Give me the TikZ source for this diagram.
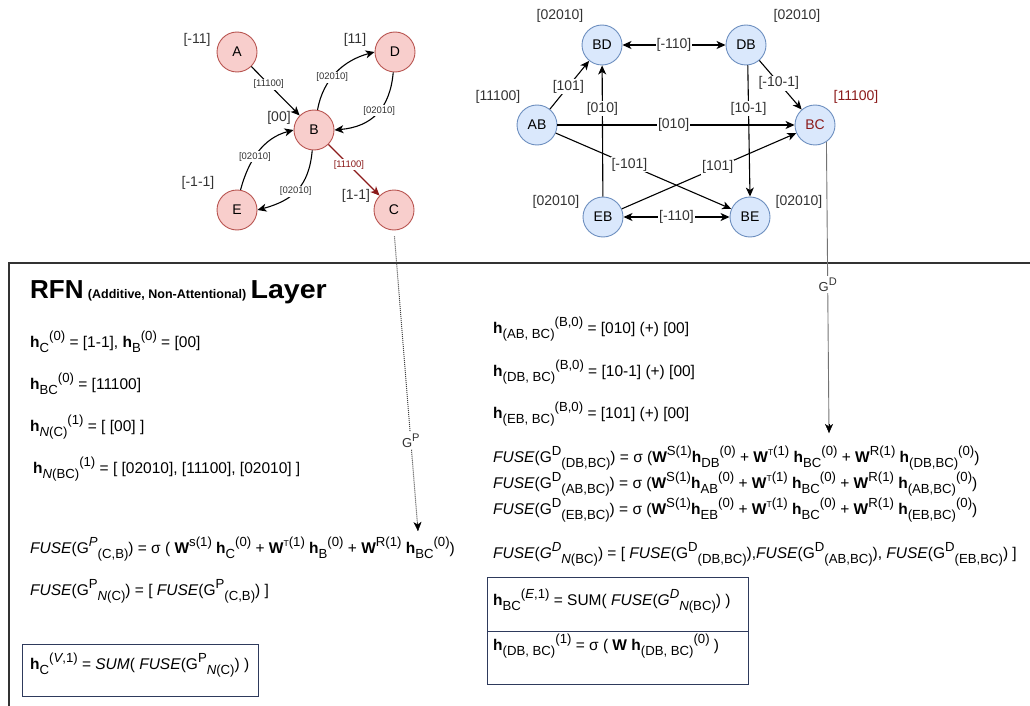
\documentclass[tikz,border=0pt]{standalone}
\usepackage{fontspec}
\setmainfont{Liberation Sans}
\usetikzlibrary{arrows.meta,calc}
\definecolor{pinkfill}{HTML}{F8CECC}
\definecolor{pinkline}{HTML}{B85450}
\definecolor{bluefill}{HTML}{DAE8FC}
\definecolor{blueline}{HTML}{6C8EBF}
\definecolor{darkred}{HTML}{8B1A1A}
\definecolor{boxline}{HTML}{2E3A5C}
\definecolor{labgray}{HTML}{333333}
% sub- and superscripts in the running font, slightly reduced
\newcommand\mysub[1]{\raisebox{-0.36em}{\scalebox{0.85}{#1}}}
\newcommand\mysup[1]{\raisebox{0.42em}{\scalebox{0.85}{#1}}}
\newcommand\hv{\textbf{h}}
\newcommand\Wv{\textbf{W}}
\newcommand\tT{\scalebox{0.65}{T}}
\begin{document}
\begin{tikzpicture}[x=1pt,y=-1pt,
  pnode/.style={circle,draw=pinkline,fill=pinkfill,line width=0.9pt,minimum size=40pt,inner sep=0pt,font=\fontsize{14}{14}\selectfont},
  bnode/.style={circle,draw=blueline,fill=bluefill,line width=0.9pt,minimum size=40pt,inner sep=0pt,font=\fontsize{14}{14}\selectfont},
  vlab/.style={font=\fontsize{14}{14}\selectfont,text=labgray},
  slab/.style={fill=white,inner sep=1pt,font=\fontsize{9.5}{9.5}\selectfont,text=labgray},
  elab/.style={fill=white,inner sep=1pt,font=\fontsize{14}{14}\selectfont,text=labgray},
  glab/.style={fill=white,inner sep=2pt,font=\fontsize{13}{13}\selectfont,text=labgray},
  arr/.style={line width=1.1pt,-{Stealth[length=9pt,width=8pt,inset=2.5pt]}},
  darr/.style={line width=1.1pt,{Stealth[length=9pt,width=8pt,inset=2.5pt]}-{Stealth[length=9pt,width=8pt,inset=2.5pt]}},
  txt/.style={anchor=base west,inner sep=0pt,font=\fontsize{15.5}{18}\selectfont},
  boxstyle/.style={draw=boxline,line width=1pt}
]
\useasboundingbox (0,0) rectangle (1030,706);

% ---- left graph: vertices ----
\node[pnode] (A) at (237,52) {A};
\node[pnode] (D) at (395,52) {D};
\node[pnode] (B) at (314,130) {B};
\node[pnode] (E) at (237,210) {E};
\node[pnode] (C) at (394,210) {C};
\node[vlab] (lA) at (197,40) {[-11]};
\node[vlab] (lD) at (355,40) {[11]};
\node[vlab] (lB) at (279,118) {[00]};
\node[vlab] (lE) at (198,183) {[-1-1]};
\node[vlab] (lC) at (356,196) {[1-1]};

% ---- left graph: edges ----
\draw[arr] (A) -- node[slab,pos=0.36] {[11100]} (B);
\draw[arr] (B.80) to[out=80,in=195] node[slab,pos=0.42] {[02010]} (D.west);
\draw[arr] (D.-95) to[out=-95,in=5,looseness=1.15] node[slab,pos=0.45] {[02010]} (B.east);
\draw[arr] (E.80) to[out=75,in=195] node[slab,pos=0.42] {[02010]} (B.west);
\draw[arr] (B.-95) to[out=-95,in=15,looseness=1.15] node[slab,pos=0.52] {[02010]} (E.east);
\draw[arr,draw=darkred,-{Stealth[length=9pt,width=8pt,inset=2.5pt,fill=darkred]}] (B) -- node[slab,pos=0.4,text=darkred] {[11100]} (C);

% ---- right graph: vertices ----
\node[bnode] (BD) at (602,45) {BD};
\node[bnode] (DB) at (746,45) {DB};
\node[bnode] (AB) at (537,125) {AB};
\node[bnode,text=darkred] (BC) at (815,125) {BC};
\node[bnode] (EB) at (603,217) {EB};
\node[bnode] (BE) at (750,217) {BE};
\node[vlab] (lBD) at (560,16) {[02010]};
\node[vlab] (lDB) at (797,16) {[02010]};
\node[vlab] (lAB) at (498,97) {[11100]};
\node[vlab,text=darkred] (lBC) at (856,97) {[11100]};
\node[vlab] (lEB) at (556,202) {[02010]};
\node[vlab] (lBE) at (799,202) {[02010]};

% ---- right graph: edges ----
\draw[darr] (BD) -- node[elab] {[-110]} (DB);
\draw[arr] (AB) -- node[elab,pos=0.47] {[101]} (BD);
\draw[arr] (EB) -- node[elab,pos=0.67] {[010]} (BD);
\draw[arr] (DB) -- node[elab,pos=0.46] {[-10-1]} (BC);
\draw[arr] (DB.-85) -- node[elab,pos=0.33] {[10-1]} (BE.north);
\draw[arr] (AB) -- node[elab,pos=0.49] {[010]} (BC);
\draw[arr] (AB) -- node[elab,pos=0.42] {[-101]} (BE);
\draw[arr] (EB) -- node[elab,pos=0.55] {[101]} (BC);
\draw[darr] (EB) -- node[elab] {[-110]} (BE);

% ---- layer frame ----
\coordinate (frTL) at (9,263);
\coordinate (frTR) at (1030,263);
\coordinate (frBL) at (9,706);
\draw[line width=1.2pt,black!80] (frBL) -- (frTL) -- (frTR);

% ---- projections into the layer ----
\coordinate (gpEnd) at (418,531);
\coordinate (gdEnd) at (829,433);
\draw[line width=1pt,black!75,densely dotted,shorten <=6pt] (C.south) -- node[glab,pos=0.7] {G\mysup{P}} (gpEnd);
\draw[-{Stealth[length=9pt,width=8pt,inset=2.5pt]},black,line width=0.4pt] ($(gpEnd)+(-0.5,-9)$) -- (gpEnd);
\draw[line width=0.9pt,black!55] (BC.-56) -- node[glab,pos=0.49] {G\mysup{D}} (gdEnd);
\draw[-{Stealth[length=9pt,width=8pt,inset=2.5pt]},black,line width=0.4pt] ($(gdEnd)+(0,-9)$) -- (gdEnd);

% ---- title ----
\node[txt] (title) at (30,298) {\textbf{\fontsize{26}{26}\selectfont RFN} \textbf{\fontsize{12.5}{12.5}\selectfont (Additive, Non-Attentional)} \textbf{\fontsize{26}{26}\selectfont\scalebox{1.1}[1]{Layer}}};

% ---- left column ----
\node[txt] (t1) at (30,347) {\hv\mysub{C}\mysup{(0)} = [1-1], \hv\mysub{B}\mysup{(0)} = [00]};
\node[txt] (t2) at (30,389) {\hv\mysub{BC}\mysup{(0)} = [11100]};
\node[txt] (t3) at (30,431) {\hv\mysub{\textit{N}(C)}\mysup{(1)} = [ [00] ]};
\node[txt] (t4) at (33,473) {\hv\mysub{\textit{N}(BC)}\mysup{(1)} = [ [02010], [11100], [02010] ]};
\node[txt] (t5) at (30,553) {\textit{FUSE}(G\mysup{\textit{P}}\mysub{(C,B)}) = σ ( \Wv\mysup{s(1)} \hv\mysub{C}\mysup{(0)} + \Wv\mysup{\tT(1)} \hv\mysub{B}\mysup{(0)} + \Wv\mysup{R(1)} \hv\mysub{BC}\mysup{(0)})};
\node[txt] (t6) at (30,595) {\textit{FUSE}(G\mysup{P}\mysub{\textit{N}(C)}) = [ \textit{FUSE}(G\mysup{P}\mysub{(C,B)}) ]};
\node[boxstyle,minimum width=236pt,minimum height=52pt,anchor=north west] (lbox) at (22,644) {};
\node[txt] (t7) at (30,669) {\hv\mysub{C}\mysup{(\textit{V},1)} = \textit{SUM}( \textit{FUSE}(G\mysup{P}\mysub{\textit{N}(C)}) )};

% ---- right column ----
\node[txt] (r1) at (493,333) {\hv\mysub{(AB, BC)}\mysup{(B,0)} = [010] (+) [00]};
\node[txt] (r2) at (493,376) {\hv\mysub{(DB, BC)}\mysup{(B,0)} = [10-1] (+) [00]};
\node[txt] (r3) at (493,418) {\hv\mysub{(EB, BC)}\mysup{(B,0)} = [101] (+) [00]};
\node[txt] (r4) at (493,462) {\textit{FUSE}(G\mysup{D}\mysub{(DB,BC)}) = σ (\Wv\mysup{S(1)}\hv\mysub{DB}\mysup{(0)} + \Wv\mysup{\tT(1)} \hv\mysub{BC}\mysup{(0)} + \Wv\mysup{R(1)} \hv\mysub{(DB,BC)}\mysup{(0)})};
\node[txt] (r5) at (493,488) {\textit{FUSE}(G\mysup{D}\mysub{(AB,BC)}) = σ (\Wv\mysup{S(1)}\hv\mysub{AB}\mysup{(0)} + \Wv\mysup{\tT(1)} \hv\mysub{BC}\mysup{(0)} + \Wv\mysup{R(1)} \hv\mysub{(AB,BC)}\mysup{(0)})};
\node[txt] (r6) at (493,514) {\textit{FUSE}(G\mysup{D}\mysub{(EB,BC)}) = σ (\Wv\mysup{S(1)}\hv\mysub{EB}\mysup{(0)} + \Wv\mysup{\tT(1)} \hv\mysub{BC}\mysup{(0)} + \Wv\mysup{R(1)} \hv\mysub{(EB,BC)}\mysup{(0)})};
\node[txt] (r7) at (493,558) {\textit{FUSE}(\textit{G}\mysup{\textit{D}}\mysub{\textit{N}(BC)}) = [ \textit{FUSE}(G\mysup{D}\mysub{(DB,BC)}),\textit{FUSE}(G\mysup{D}\mysub{(AB,BC)}), \textit{FUSE}(G\mysup{D}\mysub{(EB,BC)}) ]};
\node[boxstyle,minimum width=261pt,minimum height=54pt,anchor=north west] (rbox1) at (487,577) {};
\node[boxstyle,minimum width=261pt,minimum height=53pt,anchor=north west] (rbox2) at (487,631) {};
\node[txt] (r8) at (493,605) {\hv\mysub{BC}\mysup{(\textit{E},1)} = SUM( \textit{FUSE}(\textit{G}\mysup{\textit{D}}\mysub{\textit{N}(BC)}) )};
\node[txt] (r9) at (493,650) {\hv\mysub{(DB, BC)}\mysup{(1)} = σ ( \Wv\ \hv\mysub{(DB, BC)}\mysup{(0)} )};
\end{tikzpicture}
\end{document}
